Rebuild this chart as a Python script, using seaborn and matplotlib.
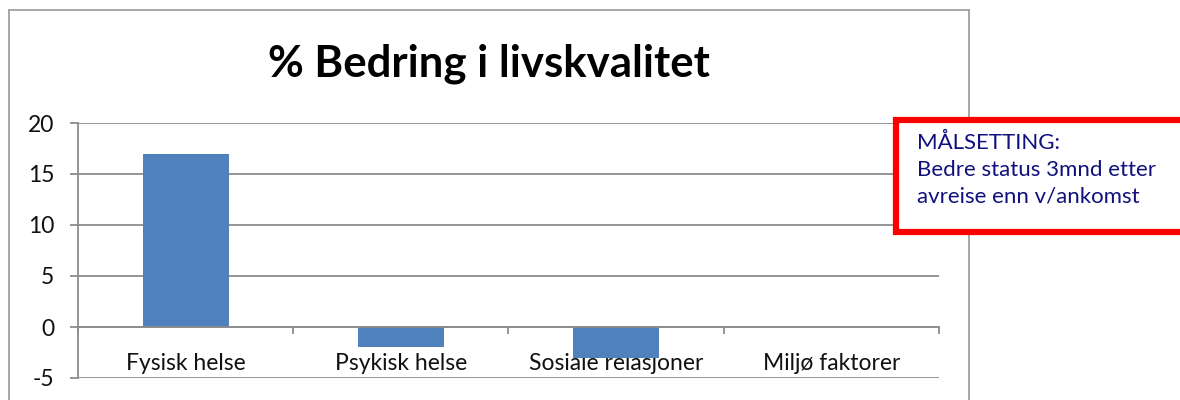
import matplotlib
matplotlib.use("Agg")
import matplotlib.pyplot as plt
from matplotlib.patches import Rectangle
from matplotlib.lines import Line2D
import seaborn as sns
import pandas as pd

categories = ["Fysisk helse", "Psykisk helse", "Sosiale relasjoner", "Miljø faktorer"]
values = [17, -2, -3, 0]
yticks = [-5, 0, 5, 10, 15, 20]
title = "% Bedring i livskvalitet"
note = "MÅLSETTING:\nBedre status 3mnd etter\navreise enn v/ankomst"

sns.set_theme(style="white")
plt.rcParams["font.family"] = ["Lato", "DejaVu Sans"]

W, H = 1180, 400
fig = plt.figure(figsize=(W / 100, H / 100), dpi=100)
fig.patch.set_facecolor("white")

def fx(px):
    return px / W

def fy(py):
    return 1 - py / H

ax = fig.add_axes([fx(78), fy(378), fx(939) - fx(78), fy(123) - fy(378)])
df = pd.DataFrame({"cat": categories, "val": values})
sns.barplot(data=df, x="cat", y="val", color="#4F81BD", saturation=1, width=0.4, ax=ax,
            zorder=3, linewidth=0)

grid_c = "#8C8C8C"
ax.set_xlim(-0.5, 3.5)
ax.set_ylim(-5, 20)
ax.set_yticks(yticks)
ax.set_yticklabels([str(v) for v in yticks], fontsize=16.5, color="#111111")
ax.yaxis.grid(True, color=grid_c, linewidth=1.3)
ax.set_axisbelow(True)
ax.set_xlabel("")
ax.set_ylabel("")

for s in ["top", "right"]:
    ax.spines[s].set_visible(False)
ax.spines["left"].set_color(grid_c)
ax.spines["left"].set_linewidth(1.3)
ax.spines["bottom"].set_position(("data", 0))
ax.spines["bottom"].set_color(grid_c)
ax.spines["bottom"].set_linewidth(1.3)
ax.spines["bottom"].set_zorder(4)

ax.tick_params(axis="y", which="major", left=True, length=6, width=1.3, color=grid_c,
               direction="out", pad=11)
ax.set_xticks(range(len(categories)))
ax.set_xticklabels(categories, fontsize=16.5, color="#111111")
ax.set_xticks([i - 0.5 for i in range(len(categories) + 1)], minor=True)
ax.tick_params(axis="x", which="major", bottom=True, length=0, pad=19)
ax.tick_params(axis="x", which="minor", bottom=True, length=5, width=1.3, color=grid_c,
               direction="out")

# title
fig.text(fx(489), fy(64), title, ha="center", va="center", fontsize=31.5,
         fontweight="bold", color="black")

# outer chart border (cut off at the bottom)
border_c = "#A0A0A0"
for (x0, y0, x1, y1) in [(9, 10, 969, 10), (9, 10, 9, 400), (969, 10, 969, 400)]:
    fig.add_artist(Line2D([fx(x0), fx(x1)], [fy(y0), fy(y1)], color=border_c,
                          linewidth=1.3, transform=fig.transFigure))

# red annotation box
box = Rectangle((fx(896), fy(232)), fx(1190) - fx(896), fy(120) - fy(232),
                transform=fig.transFigure, facecolor="white", edgecolor="#FF0000",
                linewidth=4.5, zorder=10, clip_on=False)
fig.add_artist(box)
fig.text(fx(917), fy(133), note, ha="left", va="top", fontsize=16, color="#10107F",
         linespacing=1.42, zorder=11)

fig.savefig("out.png", dpi=100, facecolor="white")
